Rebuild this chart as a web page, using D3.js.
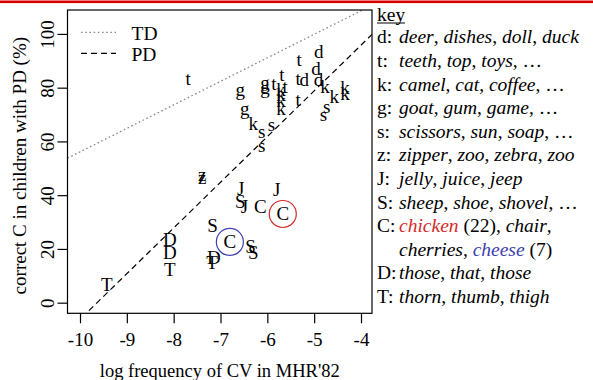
<!DOCTYPE html>
<html><head><meta charset="utf-8">
<script src="https://cdn.jsdelivr.net/npm/d3@7"></script>
<style>
body{margin:0;background:#fff}
svg{display:block}
text{font-family:"Liberation Serif","Times New Roman",serif;fill:#000}
</style>
</head><body>
<svg id="c" width="593" height="380"></svg>
<script>
// ---------- data ----------
const xTicks = [-10, -9, -8, -7, -6, -5, -4];
const yTicks = [0, 20, 40, 60, 80, 100];

const letters = [
  "t","t","t","t","t","t","t",
  "d","d","d","d",
  "k","k","k","k","k","k","k","k","k",
  "g","g","g","g",
  "s","s","s","s","s",
  "z","z",
  "J","J","J",
  "S","S","S","S",
  "C","C","C",
  "D","D","D",
  "T","T","T"
];
const logFreq = [
  -7.69,-5.32,-5.69,-5.34,-5.86,-5.62,-5.34,
  -4.90,-4.96,-5.21,-4.91,
  -4.77,-4.34,-4.34,-4.57,-5.71,-5.71,-5.71,-5.71,-6.30,
  -6.05,-6.05,-6.58,-6.48,
  -4.73,-4.80,-5.91,-6.12,-6.12,
  -7.39,-7.39,
  -6.57,-6.49,-5.80,
  -6.58,-7.17,-6.36,-6.30,
  -6.15,-5.67,-6.80,
  -8.08,-8.08,-7.14,
  -8.08,-9.43,-7.18
];
const correctPct = [
  82.9,90.3,84.7,82.9,81.0,79.9,75.3,
  93.3,87.3,82.9,82.9,
  80.6,79.9,78.0,76.7,79.2,77.3,75.4,72.1,66.8,
  81.0,79.2,78.4,71.5,
  72.3,69.3,65.5,62.8,57.8,
  47.0,45.7,
  42.3,35.6,42.1,
  37.7,28.5,20.9,18.5,
  35.6,33.0,22.6,
  23.3,18.5,16.6,
  12.2,6.6,14.8
];

const fitNames = ["TD", "PD"];
const fitIntercepts = [143.6, 163.8];
const fitSlopes = [8.75, 17.0];

const circledWords = ["chicken", "cheese"];
const circledLogFreq = [-5.67, -6.80];
const circledPct = [33.0, 22.6];

const keyTitle = "key";
const keyLetters = ["d:","t:","k:","g:","s:","z:","J:","S:","C:","","D:","T:"];
const keyTexts = [
  "deer, dishes, doll, duck",
  "teeth, top, toys, \u2026",
  "camel, cat, coffee, \u2026",
  "goat, gum, game, \u2026",
  "scissors, sun, soap, \u2026",
  "zipper, zoo, zebra, zoo",
  "jelly, juice, jeep",
  "sheep, shoe, shovel, \u2026",
  "chicken (22), chair,",
  "cherries, cheese (7)",
  "those, that, those",
  "thorn, thumb, thigh"
];

const xTitle = "log frequency of CV in MHR'82";
const yTitle = "correct C in children with PD (%)";

// ---------- drawing ----------
const svg = d3.select("#c");
const L = 67.5, R = 372, T = 10, B = 313.3;
const x = d3.scaleLinear().domain([-10.267, -3.765]).range([L, R]);
const y = d3.scaleLinear().domain([-3.95, 108.9]).range([B, T]);
const circleColors = ["#d42a2a", "#4040b0"];

// top red rule
svg.append("rect").attr("x", 0).attr("y", 0.5).attr("width", 593).attr("height", 2.6).attr("fill", "#d40000");

svg.append("clipPath").attr("id", "clip")
  .append("rect").attr("x", L).attr("y", T).attr("width", R - L).attr("height", B - T);

// fit lines
const lineStyles = [{stroke: "#888", dash: "1.6,2.6", w: 1.3}, {stroke: "#000", dash: "6,4", w: 1.2}];
const xd = x.domain();
fitNames.forEach((n, i) => {
  const pts = xd.map(v => [x(v), y(fitIntercepts[i] + fitSlopes[i] * v)]);
  svg.append("path").attr("clip-path", "url(#clip)")
    .attr("d", d3.line()(pts))
    .attr("fill", "none").attr("stroke", lineStyles[i].stroke)
    .attr("stroke-width", lineStyles[i].w).attr("stroke-dasharray", lineStyles[i].dash);
});

// legend inside plot
const legY = [32.3, 53.3];
fitNames.forEach((n, i) => {
  svg.append("line").attr("x1", 81).attr("x2", 116).attr("y1", legY[i]).attr("y2", legY[i])
    .attr("stroke", lineStyles[i].stroke).attr("stroke-width", lineStyles[i].w)
    .attr("stroke-dasharray", lineStyles[i].dash);
  svg.append("text").attr("x", 131.5).attr("y", legY[i] + 7.6).attr("font-size", 19.5).text(n);
});

// box
svg.append("rect").attr("x", L).attr("y", T).attr("width", R - L).attr("height", B - T)
  .attr("fill", "none").attr("stroke", "#000").attr("stroke-width", 1.2);

// axes
const gx = svg.append("g").attr("transform", `translate(0,${B})`)
  .call(d3.axisBottom(x).tickValues(xTicks).tickSize(10).tickPadding(15)
    .tickFormat(d => d < 0 ? "-" + Math.abs(d) : d));
gx.select(".domain").remove();
gx.selectAll("line").attr("stroke-width", 1.2);
gx.selectAll("text").attr("font-size", 19).attr("font-family", "Liberation Serif").attr("dy", null).attr("y", 33);

const gy = svg.append("g").attr("transform", `translate(${L},0)`)
  .call(d3.axisLeft(y).tickValues(yTicks).tickSize(10));
gy.select(".domain").remove();
gy.selectAll("line").attr("stroke-width", 1.2);
gy.selectAll("text").attr("font-size", 19).attr("font-family", "Liberation Serif")
  .attr("text-anchor", "middle").attr("x", 0).attr("dy", null).attr("y", -13.5)
  .attr("transform", "rotate(-90)");

// axis titles
svg.append("text").attr("x", (L + R) / 2).attr("y", 377).attr("text-anchor", "middle")
  .attr("font-size", 19).attr("textLength", 240).attr("lengthAdjust", "spacingAndGlyphs").text(xTitle);
svg.append("text").attr("transform", `translate(25.5,${(T + B) / 2 + 4}) rotate(-90)`)
  .attr("text-anchor", "middle").attr("font-size", 19).text(yTitle);

// letter labels, vertically centred on their own glyph height
function asc(ch) {
  if ("sgz".includes(ch)) return 0.46;
  if (ch === "t") return 0.58;
  if ("dk".includes(ch)) return 0.69;
  return 0.66;
}
const fs = 19;
svg.append("g").selectAll("text").data(letters).join("text")
  .attr("x", (d, i) => x(logFreq[i]))
  .attr("y", (d, i) => y(correctPct[i]) + asc(d) * fs / 2)
  .attr("text-anchor", "middle").attr("font-size", fs).text(d => d);

// circles
svg.append("g").selectAll("circle").data(circledWords).join("circle")
  .attr("cx", (d, i) => x(circledLogFreq[i]))
  .attr("cy", (d, i) => y(circledPct[i]))
  .attr("r", 13.5).attr("fill", "none").attr("stroke-width", 1.2)
  .attr("stroke", (d, i) => circleColors[i]);

// key
const kx1 = 377, kx2 = 399, kfs = 19.5;
svg.append("text").attr("x", kx1).attr("y", 20.7).attr("font-size", kfs).text(keyTitle);
svg.append("line").attr("x1", kx1).attr("x2", kx1 + 28).attr("y1", 23).attr("y2", 23)
  .attr("stroke", "#000").attr("stroke-width", 1);
keyTexts.forEach((t, i) => {
  const by = 43.3 + 23.6 * i;
  svg.append("text").attr("x", kx1).attr("y", by).attr("font-size", kfs).text(keyLetters[i]);
  const tx = svg.append("text").attr("x", kx2).attr("y", by).attr("font-size", kfs);
  t.match(/[A-Za-z]+|[^A-Za-z]+/g).forEach(tok => {
    const isWord = /^[A-Za-z]+$/.test(tok);
    const ci = circledWords.indexOf(tok);
    tx.append("tspan").text(tok)
      .attr("font-style", isWord ? "italic" : "normal")
      .attr("fill", ci >= 0 ? circleColors[ci] : "#000");
  });
});
</script>
</body></html>
